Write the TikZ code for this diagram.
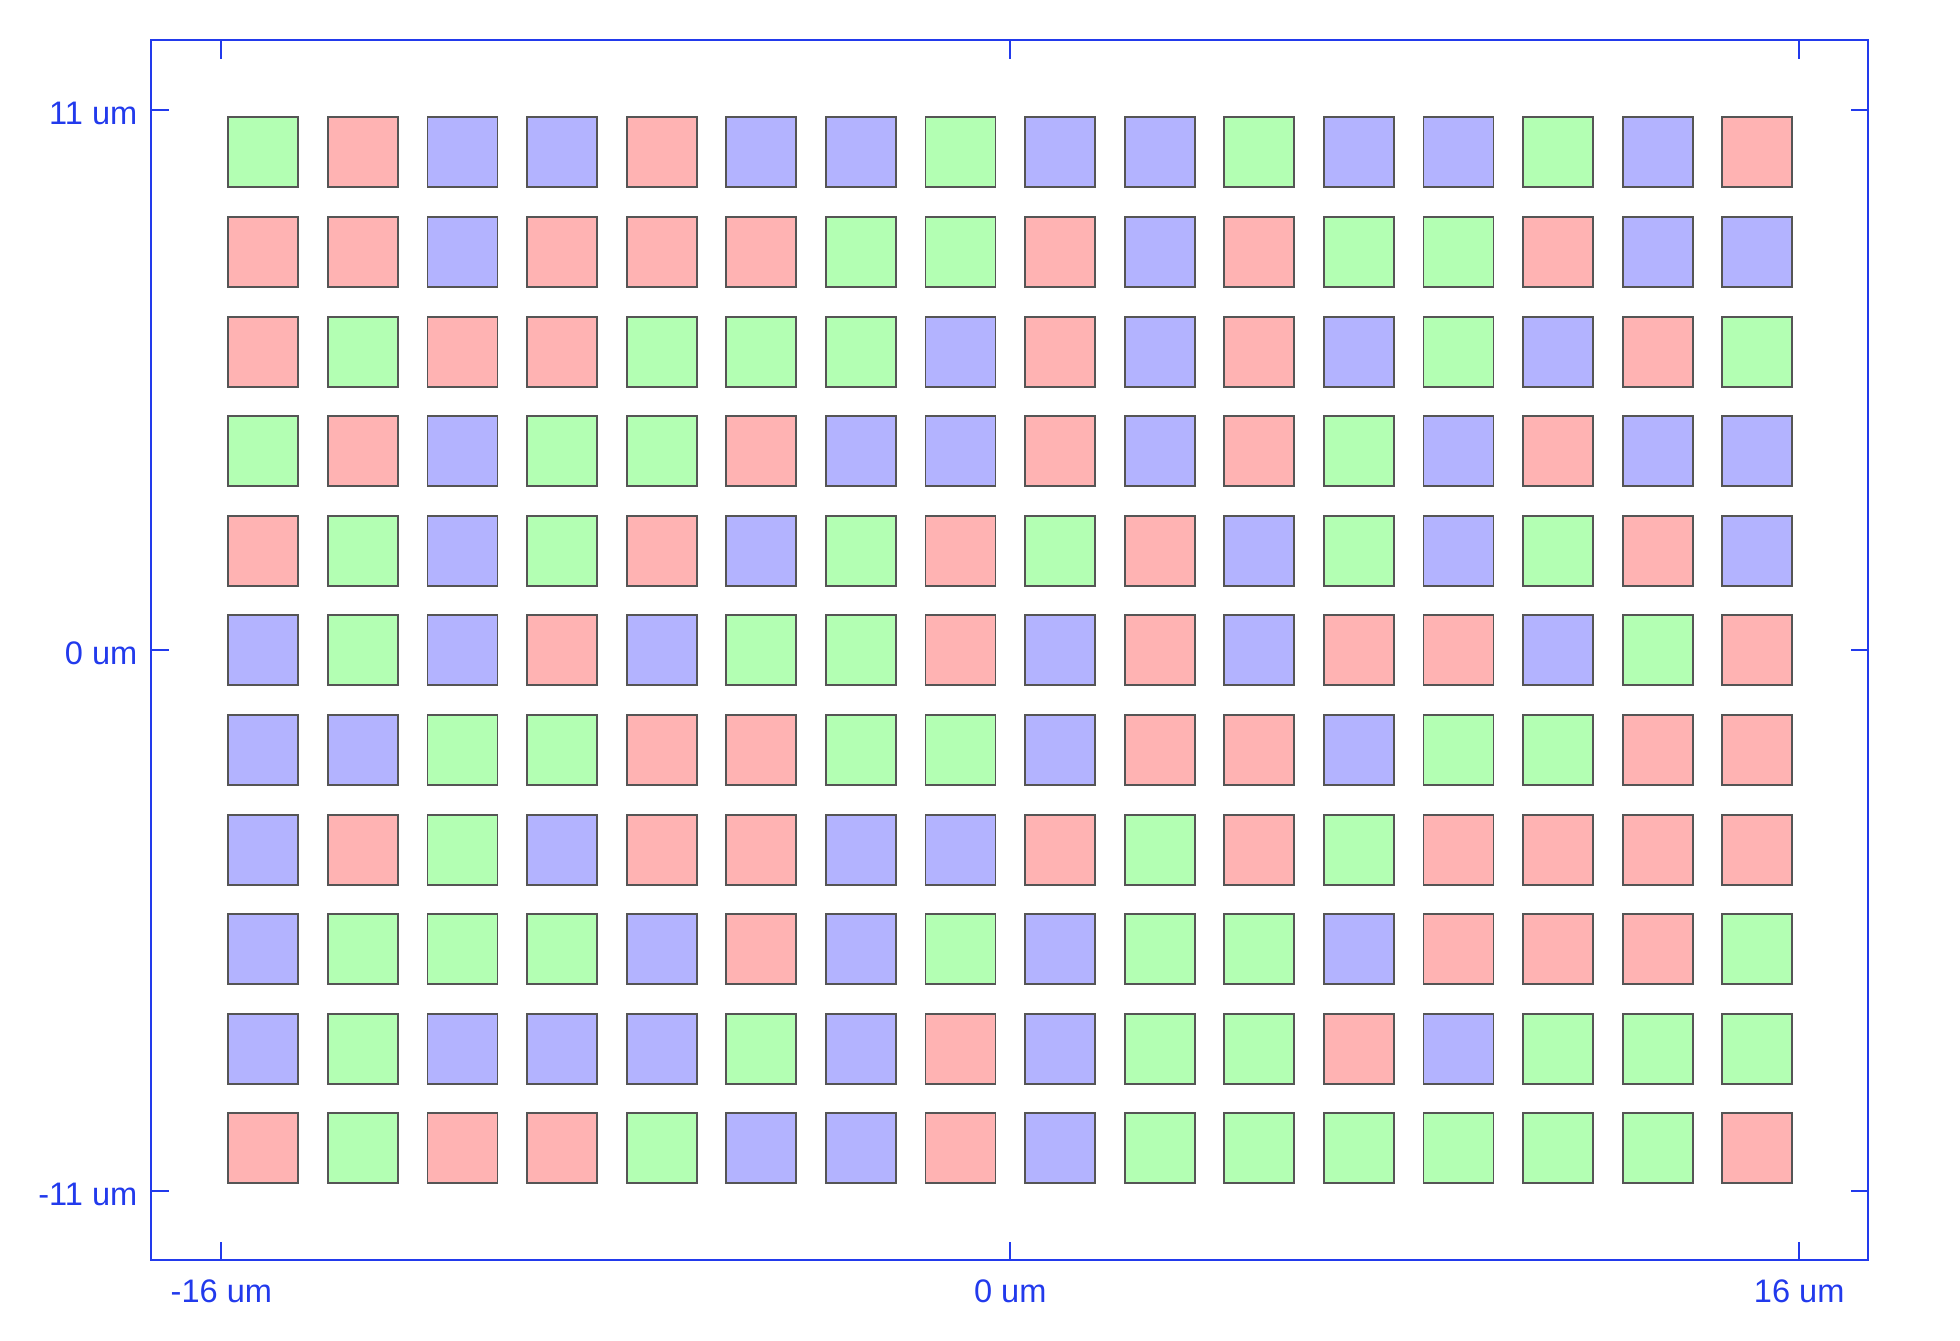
\documentclass[tikz,border=0pt]{standalone}
\usepackage{fontspec}
\setmainfont{Liberation Sans}
\usepackage{xcolor}

\definecolor{axisblue}{RGB}{34,58,236}
\definecolor{pixedge}{RGB}{85,85,85}
\definecolor{pixR}{HTML}{FFB3B3}
\definecolor{pixG}{HTML}{B3FFB3}
\definecolor{pixB}{HTML}{B3B3FF}

\begin{document}
\begin{tikzpicture}[x=0.5cm,y=0.5cm,
    pix/.style={draw=pixedge, line width=0.55pt},
    axis/.style={draw=axisblue, line width=0.55pt},
    lbl/.style={text=axisblue, inner sep=0pt, font=\fontsize{9.4}{11}\selectfont}]
    \useasboundingbox (-20.49,-13.99) rectangle (19.26,13.19);
    % sensor pixels, one row of the colour filter pattern per line
    \foreach \row [count=\j from 0] in {
        {G,R,B,B,R,B,B,G,B,B,G,B,B,G,B,R},
        {R,R,B,R,R,R,G,G,R,B,R,G,G,R,B,B},
        {R,G,R,R,G,G,G,B,R,B,R,B,G,B,R,G},
        {G,R,B,G,G,R,B,B,R,B,R,G,B,R,B,B},
        {R,G,B,G,R,B,G,R,G,R,B,G,B,G,R,B},
        {B,G,B,R,B,G,G,R,B,R,B,R,R,B,G,R},
        {B,B,G,G,R,R,G,G,B,R,R,B,G,G,R,R},
        {B,R,G,B,R,R,B,B,R,G,R,G,R,R,R,R},
        {B,G,G,G,B,R,B,G,B,G,G,B,R,R,R,G},
        {B,G,B,B,B,G,B,R,B,G,G,R,B,G,G,G},
        {R,G,R,R,G,B,B,R,B,G,G,G,G,G,G,R}} {
        \foreach \c [count=\i from 0] in \row {
            \draw[pix, fill=pix\c] ({-15.86+2.02*\i},{9.39-2.02*\j}) rectangle +(1.42,1.42);
        }
    }
    % frame
    \draw[axis] (-17.42,-12.37) rectangle (17.40,12.37);
    % x ticks
    \foreach \x in {-16,0,16} {
        \draw[axis] (\x,-12.37) -- (\x,-12.0);
        \draw[axis] (\x,12.37) -- (\x,12.0);
        \node[lbl, anchor=base] at (\x,-13.22) {\x\ um};
    }
    % y ticks (the 11 um marks sit a little inside 11 on this scale)
    \foreach \y/\yy in {-11/-10.96,0/0,11/10.96} {
        \draw[axis] (-17.42,\yy) -- (-17.07,\yy);
        \draw[axis] (17.40,\yy) -- (17.05,\yy);
        \node[lbl, anchor=base east] at (-17.69,\yy-0.29) {\y\ um};
    }
\end{tikzpicture}
\end{document}
